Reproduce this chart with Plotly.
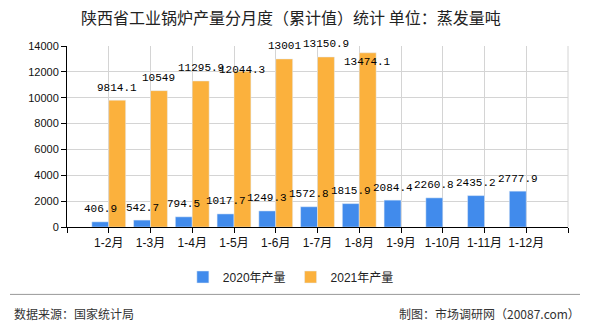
import plotly.graph_objects as go

categories = ["1-2月", "1-3月", "1-4月", "1-5月", "1-6月", "1-7月", "1-8月", "1-9月", "1-10月", "1-11月", "1-12月"]
values_2020 = [406.9, 542.7, 794.5, 1017.7, 1249.3, 1572.8, 1815.9, 2084.4, 2260.8, 2435.2, 2777.9]
values_2021 = [9814.1, 10549, 11295.9, 12044.3, 13001, 13150.9, 13474.1]
y_ticks = [0, 2000, 4000, 6000, 8000, 10000, 12000, 14000]
y_tick_text = ["0", "2000", "4000", "6000", "8000", "10000", "12000", "14000"]

W, H = 590, 330
L, R, T, B = 67, 568, 46, 229  # plot area pixel bounds
pw, ph = R - L, B - T
BARGAP = 0.19
HALF = (1 - BARGAP) / 4  # centre offset of each bar within its group
LABEL_SHIFT = 12.5
# labels the original moved down to avoid overlaps (series 2021, index -> pixel shift)
shift_2021 = {3: 1, 6: -9}

def px(x):
    return (x - L) / pw

def py(y):
    return (B - y) / ph

x1 = list(range(1, len(values_2020) + 1))
x2 = list(range(1, len(values_2021) + 1))

label_font = dict(family="Liberation Mono, DejaVu Sans Mono, monospace", size=11, color="#000")

fig = go.Figure()
fig.add_trace(go.Bar(
    x=x1, y=values_2020, name="2020年产量", marker_color="#418bec",
    offsetgroup="a",
))
fig.add_trace(go.Bar(
    x=x2, y=values_2021, name="2021年产量", marker_color="#fbb13d",
    offsetgroup="b",
))

annotations = []
for xv, v in zip(x1, values_2020):
    annotations.append(dict(x=xv - HALF, y=v, xref="x", yref="y", text=f"{v:g}",
                            showarrow=False, yanchor="middle", xanchor="center",
                            yshift=LABEL_SHIFT, font=label_font))
for i, (xv, v) in enumerate(zip(x2, values_2021)):
    annotations.append(dict(x=xv + HALF, y=v, xref="x", yref="y", text=f"{v:g}",
                            showarrow=False, yanchor="middle", xanchor="center",
                            yshift=shift_2021.get(i, LABEL_SHIFT), font=label_font))

annotations += [
    dict(text="数据来源：国家统计局", xref="paper", yref="paper",
         x=px(12), y=py(316), xanchor="left", yanchor="middle", showarrow=False,
         font=dict(family="Noto Sans CJK SC, sans-serif", size=12, color="#333")),
    dict(text="制图：市场调研网（20087.com）", xref="paper", yref="paper",
         x=px(582), y=py(316), xanchor="right", yanchor="middle", showarrow=False,
         font=dict(family="Noto Sans CJK SC, sans-serif", size=12, color="#333")),
]

fig.update_layout(
    width=W, height=H,
    margin=dict(l=L, r=W - R, t=T, b=H - B),
    paper_bgcolor="white", plot_bgcolor="white",
    barmode="group", bargap=BARGAP, bargroupgap=0,
    font=dict(family="Liberation Sans, Noto Sans CJK SC, sans-serif", size=12, color="#222"),
    title=dict(
        text="陕西省工业锅炉产量分月度（累计值）统计 单位：蒸发量吨",
        x=0.493, xref="container", xanchor="center",
        y=1 - 18 / H, yref="container", yanchor="middle",
        font=dict(family="Noto Sans CJK SC, sans-serif", size=16, color="#222"),
    ),
    legend=dict(
        orientation="h", xref="container", yref="container",
        x=0.493, xanchor="center", y=1 - 277 / H, yanchor="middle",
        font=dict(family="Liberation Sans, Noto Sans CJK SC, sans-serif", size=12, color="#222"),
        itemwidth=30,
    ),
    showlegend=True,
    xaxis=dict(
        range=[0, 12],
        tickmode="array",
        tickvals=list(range(0, 13)),
        ticktext=[""] + categories + [""],
        showgrid=True, gridcolor="#d4d4d4", gridwidth=1,
        showline=True, linecolor="#000", linewidth=1,
        ticks="outside", ticklen=5, tickcolor="#000",
        tickfont=dict(family="Liberation Sans, Noto Sans CJK SC, sans-serif", size=12, color="#111"),
        zeroline=False, fixedrange=True,
    ),
    yaxis=dict(
        range=[0, 14000],
        tickmode="array", tickvals=y_ticks, ticktext=y_tick_text,
        showgrid=True, gridcolor="#d4d4d4", gridwidth=1,
        showline=True, linecolor="#000", linewidth=1,
        ticks="outside", ticklen=5, tickcolor="#000",
        tickfont=dict(family="Liberation Sans, sans-serif", size=11, color="#111"),
        zeroline=False, fixedrange=True,
    ),
    shapes=[
        dict(type="line", xref="paper", yref="paper",
             x0=px(10), x1=px(580), y0=py(297), y1=py(297),
             line=dict(color="#999", width=1)),
        dict(type="line", xref="paper", yref="paper",
             x0=1, x1=1, y0=0, y1=1,
             line=dict(color="#d4d4d4", width=1)),
    ],
    annotations=annotations,
)

fig.write_html("out.html")
